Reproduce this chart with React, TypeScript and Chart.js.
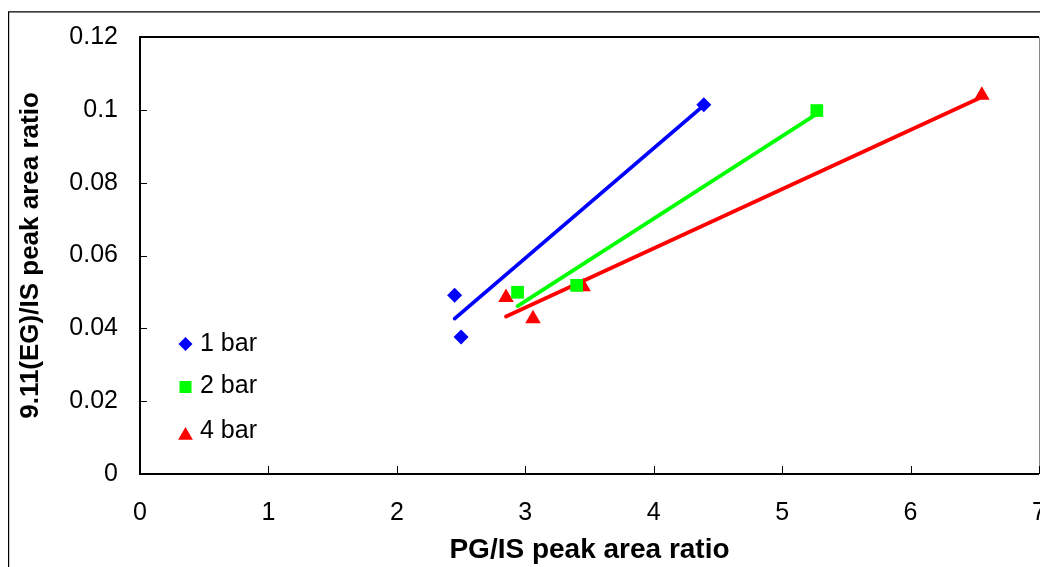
import React, { useEffect, useRef } from "react";
import { Chart, registerables } from "chart.js";

Chart.register(...registerables);

// ---- data ----
const seriesLabels = ["1 bar", "2 bar", "4 bar"];
const seriesColors = ["#0000FF", "#00FF00", "#FF0000"];
const seriesStyles = ["rectRot", "rect", "triangle"];
const seriesRadii = [7.5, 9, 9];

const bar1X = [2.45, 2.5, 4.39];
const bar1Y = [0.0491, 0.0376, 0.1014];
const bar2X = [2.94, 3.4, 5.27];
const bar2Y = [0.0499, 0.0518, 0.0998];
const bar4X = [2.85, 3.06, 3.45, 6.555];
const bar4Y = [0.0485, 0.0426, 0.0514, 0.104];

const xTicks = [0, 1, 2, 3, 4, 5, 6, 7];
const yTicks = [0, 0.02, 0.04, 0.06, 0.08, 0.1, 0.12];
const xTitle = "PG/IS peak area ratio";
const yTitle = "9.11(EG)/IS peak area ratio";

const FONT = "'Liberation Sans', Arial, Helvetica, sans-serif";

function toPoints(xs: number[], ys: number[]) {
  return xs.map((x, i) => ({ x, y: ys[i] }));
}

// least-squares linear trendline, spanning the data's x range
function trend(xs: number[], ys: number[]) {
  const n = xs.length;
  const mx = xs.reduce((a, b) => a + b, 0) / n;
  const my = ys.reduce((a, b) => a + b, 0) / n;
  let sxx = 0;
  let sxy = 0;
  for (let i = 0; i < n; i++) {
    sxx += (xs[i] - mx) * (xs[i] - mx);
    sxy += (xs[i] - mx) * (ys[i] - my);
  }
  const b = sxy / sxx;
  const a = my - b * mx;
  const x0 = Math.min(...xs);
  const x1 = Math.max(...xs);
  return [
    { x: x0, y: a + b * x0 },
    { x: x1, y: a + b * x1 },
  ];
}

function drawShape(ctx: CanvasRenderingContext2D, style: string, x: number, y: number, r: number) {
  ctx.beginPath();
  if (style === "rectRot") {
    ctx.moveTo(x, y - r);
    ctx.lineTo(x + r, y);
    ctx.lineTo(x, y + r);
    ctx.lineTo(x - r, y);
    ctx.closePath();
  } else if (style === "rect") {
    const s = r * Math.SQRT1_2;
    ctx.rect(x - s, y - s, 2 * s, 2 * s);
  } else {
    ctx.moveTo(x, y - r);
    ctx.lineTo(x + r * 0.866, y + r * 0.5);
    ctx.lineTo(x - r * 0.866, y + r * 0.5);
    ctx.closePath();
  }
  ctx.fill();
}

const framePlugin = {
  id: "framePlugin",
  afterDraw(chart: any) {
    const ctx: CanvasRenderingContext2D = chart.ctx;
    const { left, right, top, bottom } = chart.chartArea;
    const xs = chart.scales.x;
    const ys = chart.scales.y;
    ctx.save();
    // outer chart border
    ctx.strokeStyle = "#000";
    ctx.lineWidth = 1.2;
    ctx.beginPath();
    ctx.moveTo(8.6, chart.height);
    ctx.lineTo(8.6, 11.8);
    ctx.lineTo(chart.width, 11.8);
    ctx.stroke();

    // plot area frame
    ctx.strokeStyle = "#888";
    ctx.lineWidth = 1;
    ctx.beginPath();
    ctx.moveTo(right + 0.5, top);
    ctx.lineTo(right + 0.5, bottom);
    ctx.stroke();
    ctx.strokeStyle = "#000";
    ctx.lineWidth = 2;
    ctx.beginPath();
    ctx.moveTo(right, top);
    ctx.lineTo(left, top);
    ctx.lineTo(left, bottom);
    ctx.lineTo(right, bottom);
    ctx.stroke();

    // inward tick marks
    ctx.lineWidth = 1;
    ctx.beginPath();
    yTicks.forEach((v) => {
      const py = Math.round(ys.getPixelForValue(v)) + 0.5;
      ctx.moveTo(left, py);
      ctx.lineTo(left + 7, py);
    });
    xTicks.forEach((v) => {
      const px = Math.round(xs.getPixelForValue(v)) + 0.5;
      ctx.moveTo(px, bottom);
      ctx.lineTo(px, bottom - 8);
    });
    ctx.stroke();

    // legend inside plot area
    const rowOffsets = [307, 349, 394];
    const markerShift = [0, 1, 4.5];
    const legendRadii = [7, 8.5, 8.5];
    ctx.font = `25px ${FONT}`;
    ctx.textBaseline = "middle";
    ctx.textAlign = "left";
    seriesLabels.forEach((lab, i) => {
      const ry = top + rowOffsets[i];
      ctx.fillStyle = seriesColors[i];
      drawShape(ctx, seriesStyles[i], left + 45.5, ry + markerShift[i], legendRadii[i]);
      ctx.fillStyle = "#000";
      ctx.fillText(lab, left + 60, ry);
    });
    ctx.restore();
  },
};

export default function App() {
  const ref = useRef<HTMLCanvasElement | null>(null);

  useEffect(() => {
    if (!ref.current) return;
    const seriesX = [bar1X, bar2X, bar4X];
    const seriesY = [bar1Y, bar2Y, bar4Y];

    const pointSets = seriesLabels.map((lab, i) => ({
      type: "scatter" as const,
      label: lab,
      data: toPoints(seriesX[i], seriesY[i]),
      backgroundColor: seriesColors[i],
      borderColor: seriesColors[i],
      borderWidth: 0,
      pointStyle: seriesStyles[i] as any,
      pointRadius: seriesRadii[i],
      showLine: false,
      order: 1,
    }));
    const trendSets = seriesLabels.map((lab, i) => ({
      type: "scatter" as const,
      label: lab + " trend",
      data: trend(seriesX[i], seriesY[i]),
      borderColor: seriesColors[i],
      backgroundColor: seriesColors[i],
      borderWidth: 3.8,
      borderCapStyle: "round" as const,
      pointRadius: 0,
      showLine: true,
      order: 2,
    }));

    const chart = new Chart(ref.current, {
      type: "scatter",
      data: { datasets: [...trendSets, ...pointSets] as any },
      options: {
        responsive: false,
        animation: false,
        layout: { padding: { left: 0, top: 34, right: 61, bottom: 0 } },
        plugins: {
          legend: { display: false },
          tooltip: { enabled: false },
        },
        scales: {
          x: {
            type: "linear",
            min: 0,
            max: 7,
            afterBuildTicks: (s: any) => {
              s.ticks = xTicks.map((v) => ({ value: v }));
            },
            afterFit: (s: any) => {
              s.height = 146;
            },
            grid: { display: false, drawTicks: false },
            border: { display: false },
            ticks: {
              padding: 24,
              color: "#000",
              font: { family: FONT, size: 25 },
              callback: (v: any) => String(v),
              maxRotation: 0,
            },
            title: {
              display: true,
              text: xTitle,
              color: "#000",
              font: { family: FONT, size: 28, weight: "bold" },
              padding: { top: 0, bottom: 53 },
            },
          },
          y: {
            type: "linear",
            min: 0,
            max: 0.12,
            afterBuildTicks: (s: any) => {
              s.ticks = yTicks.map((v) => ({ value: v }));
            },
            afterFit: (s: any) => {
              s.width = 140;
            },
            grid: { display: false, drawTicks: false },
            border: { display: false },
            ticks: {
              padding: 22,
              color: "#000",
              font: { family: FONT, size: 25 },
              callback: (v: any) => String(Math.round(Number(v) * 100) / 100),
            },
            title: {
              display: true,
              text: yTitle,
              color: "#000",
              font: { family: FONT, size: 26, weight: "bold" },
              padding: { top: 15, bottom: 0 },
            },
          },
        },
      },
      plugins: [framePlugin],
    });
    return () => chart.destroy();
  }, []);

  return (
    <div
      style={{
        position: "fixed",
        left: 0,
        top: 0,
        width: "100vw",
        height: "100vh",
        overflow: "hidden",
        background: "#fff",
      }}
    >
      <canvas ref={ref} width={1100} height={620} style={{ display: "block" }} />
    </div>
  );
}
